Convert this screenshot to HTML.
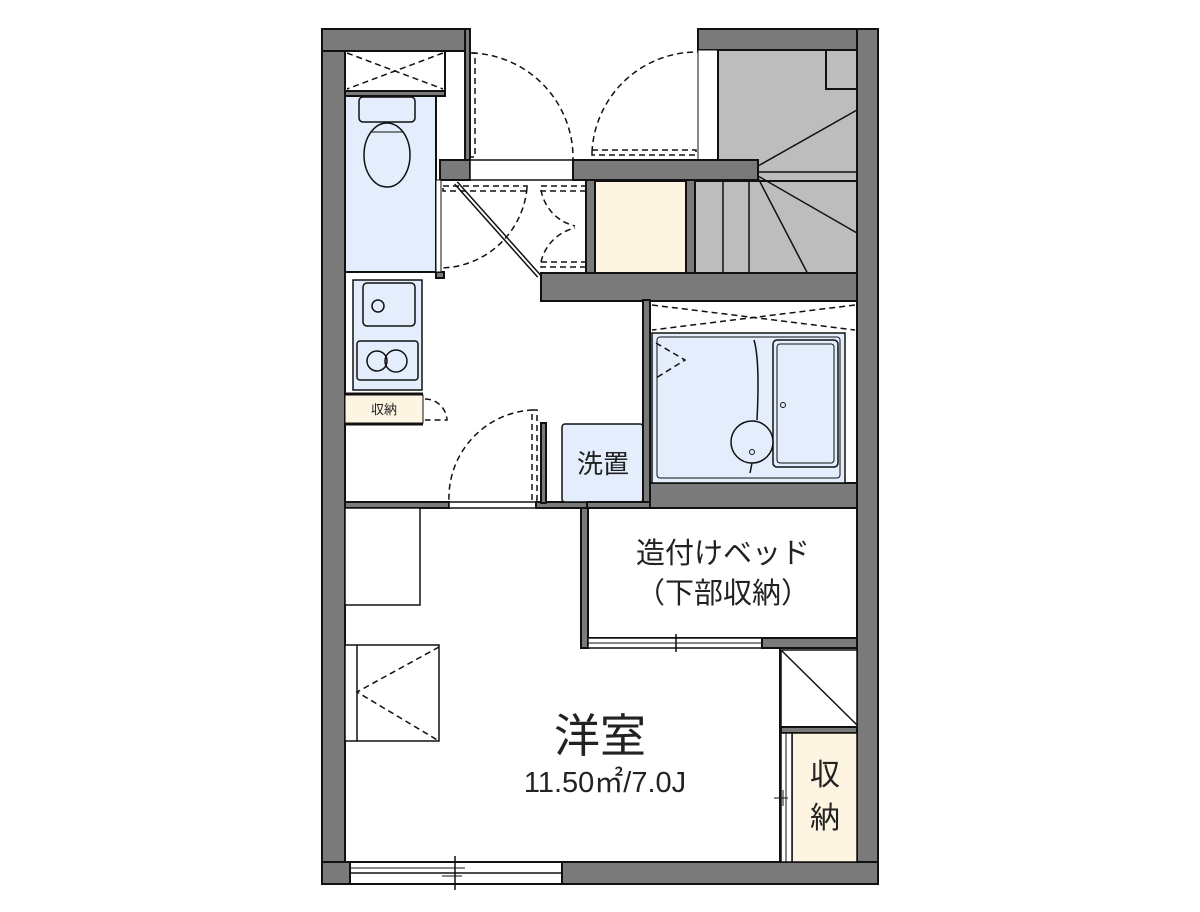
<!DOCTYPE html>
<html><head><meta charset="utf-8"><style>
html,body{margin:0;padding:0;background:#fff;}
svg{display:block;}
text{font-family:"Liberation Sans","Noto Sans CJK JP",sans-serif;fill:#222;}
</style></head><body>
<svg width="1200" height="912" viewBox="0 0 1200 912" xmlns="http://www.w3.org/2000/svg">
<g stroke="#111" stroke-width="2">
<rect x="322" y="29" width="23" height="855" fill="#7a7a7a"/>
<rect x="322" y="29" width="143" height="22" fill="#7a7a7a"/>
<rect x="698" y="29" width="180" height="21" fill="#7a7a7a"/>
<rect x="857" y="29" width="21" height="855" fill="#7a7a7a"/>
<rect x="562" y="862" width="316" height="22" fill="#7a7a7a"/>
<rect x="322" y="862" width="28" height="22" fill="#7a7a7a"/>
<rect x="350" y="862" width="212" height="22" fill="#fff"/>
<line x1="350" y1="873" x2="562" y2="873" stroke-width="1.5"/>
<line x1="350" y1="868" x2="460" y2="868" stroke-width="1"/>
<line x1="455" y1="856" x2="455" y2="890" stroke-width="1.5"/>
<line x1="445" y1="868" x2="465" y2="868" stroke-width="1"/>
<line x1="442" y1="876" x2="462" y2="876" stroke-width="1"/>
<rect x="465" y="29" width="5" height="151" fill="#7a7a7a"/>
<rect x="440" y="160" width="30" height="20" fill="#7a7a7a"/>
<rect x="345" y="91" width="100" height="5" fill="#7a7a7a"/>
<rect x="436" y="272" width="8" height="6" fill="#7a7a7a"/>
<rect x="345" y="51" width="100" height="40" fill="#fff"/>
<rect x="345" y="96" width="91" height="176" fill="#e3edfb"/>
<rect x="436" y="180" width="5" height="92" fill="#fff" stroke-width="1"/>
<rect x="359" y="97" width="56" height="25" rx="4" fill="#e3edfb" stroke-width="1.5"/>
<ellipse cx="387" cy="155" rx="23" ry="32" fill="#e3edfb" stroke-width="1.5"/>
<line x1="370" y1="132" x2="404" y2="132" stroke-width="1"/>
<rect x="470" y="160" width="103" height="20" fill="#fff" stroke-width="1.5"/>
<rect x="698" y="50" width="20" height="110" fill="#fff" stroke-width="1"/>
<rect x="718" y="50" width="139" height="131" fill="#bdbdbd"/>
<rect x="826" y="50" width="31" height="39" fill="#bdbdbd"/>
<rect x="695" y="181" width="162" height="99" fill="#bdbdbd"/>
<line x1="723" y1="181" x2="723" y2="280" stroke-width="1.5"/>
<line x1="749" y1="181" x2="749" y2="280" stroke-width="1.5"/>
<rect x="573" y="160" width="185" height="20" fill="#7a7a7a"/>
<line x1="758" y1="166" x2="857" y2="110" stroke-width="1.5"/>
<line x1="758" y1="172" x2="857" y2="172" stroke-width="1.5"/>
<line x1="758" y1="176" x2="857" y2="233" stroke-width="1.5"/>
<line x1="758" y1="178" x2="811" y2="280" stroke-width="1.5"/>
<rect x="586" y="180" width="9" height="93" fill="#7a7a7a"/>
<rect x="686" y="180" width="9" height="93" fill="#7a7a7a"/>
<rect x="595" y="181" width="91" height="92" fill="#fdf4e2"/>
<rect x="541" y="273" width="316" height="28" fill="#7a7a7a"/>
<line x1="456" y1="183" x2="539" y2="276" stroke-width="5"/>
<line x1="456" y1="183" x2="539" y2="276" stroke="#fff" stroke-width="2"/>
<rect x="353" y="280" width="69" height="110" fill="#e3edfb" stroke-width="1.5"/>
<rect x="363" y="283" width="52" height="43" rx="4" fill="#e3edfb" stroke-width="1.5"/>
<circle cx="378" cy="306" r="6" fill="none" stroke-width="1.5"/>
<rect x="357" y="341" width="61" height="39" rx="3" fill="#e3edfb" stroke-width="1.5"/>
<circle cx="377" cy="361" r="10" fill="none" stroke-width="1.5"/>
<circle cx="396" cy="361" r="11" fill="none" stroke-width="1.5"/>
<rect x="345" y="395" width="78" height="28" fill="#fdf4e2" stroke-width="1"/>
<line x1="345" y1="394" x2="423" y2="394" stroke-width="3"/>
<line x1="345" y1="424" x2="423" y2="424" stroke-width="3"/>
<rect x="345" y="502" width="104" height="6" fill="#7a7a7a"/>
<rect x="449" y="502" width="87" height="6" fill="#fff" stroke-width="1.5"/>
<rect x="536" y="502" width="51" height="6" fill="#7a7a7a"/>
<rect x="541" y="423" width="5" height="80" fill="#7a7a7a"/>
<rect x="562" y="424" width="81" height="78" rx="3" fill="#e3edfb" stroke-width="1.5"/>
<rect x="643" y="300" width="7" height="210" fill="#7a7a7a"/>
<rect x="650" y="483" width="207" height="25" fill="#7a7a7a"/>
<rect x="587" y="502" width="63" height="6" fill="#7a7a7a"/>
<rect x="650" y="301" width="207" height="182" fill="#fff"/>
<rect x="652" y="333" width="193" height="150" fill="#e3edfb" stroke-width="1.5"/>
<rect x="657" y="337" width="183" height="141" rx="3" fill="none" stroke-width="1"/>
<rect x="773" y="340" width="65" height="127" rx="4" fill="none" stroke-width="1.5"/>
<rect x="777" y="344" width="57" height="119" rx="3" fill="none" stroke-width="1"/>
<path d="M754 340 Q760 360 757 420" fill="none" stroke-width="1.5"/>
<path d="M752 463 L750 473" fill="none" stroke-width="1.5"/>
<circle cx="752" cy="442" r="21" fill="#e3edfb" stroke-width="1.5"/>
<circle cx="752" cy="452" r="2.5" fill="none" stroke-width="1"/>
<circle cx="783" cy="405" r="2.5" fill="none" stroke-width="1"/>
<rect x="581" y="508" width="7" height="140" fill="#7a7a7a"/>
<rect x="588" y="508" width="269" height="130" fill="#fff"/>
<rect x="588" y="638" width="174" height="10" fill="#fff" stroke-width="1.5"/>
<line x1="588" y1="643" x2="762" y2="643" stroke-width="1"/>
<line x1="676" y1="634" x2="676" y2="652" stroke-width="1.5"/>
<rect x="762" y="638" width="95" height="10" fill="#7a7a7a"/>
<rect x="345" y="508" width="75" height="97" fill="#fff" stroke-width="1.5"/>
<rect x="345" y="645" width="94" height="96" fill="#fff" stroke-width="1.5"/>
<line x1="357" y1="645" x2="357" y2="741" stroke-width="1.5"/>
<rect x="781" y="650" width="76" height="77" fill="#fff" stroke-width="1.5"/>
<line x1="781" y1="650" x2="857" y2="725" stroke-width="1.5"/>
<rect x="781" y="727" width="76" height="6" fill="#7a7a7a"/>
<rect x="792" y="733" width="65" height="129" fill="#fdf4e2" stroke-width="1.5"/>
<rect x="781" y="733" width="11" height="129" fill="#fff" stroke-width="1.5"/>
<line x1="786" y1="733" x2="786" y2="862" stroke-width="1"/>
<line x1="774" y1="798" x2="788" y2="798" stroke-width="1"/>
<line x1="783" y1="790" x2="783" y2="806" stroke-width="1"/>
<line x1="780" y1="648" x2="780" y2="862" stroke-width="2"/>
</g>
<g fill="none" stroke="#111" stroke-width="1.5" stroke-dasharray="6,4">
<line x1="347" y1="53" x2="443" y2="89"/><line x1="443" y1="53" x2="347" y2="89"/>
<rect x="470" y="53" width="5" height="104"/>
<path d="M472 53 A105 105 0 0 1 573 160"/>
<rect x="592" y="150" width="104" height="5"/>
<path d="M592 152 A105 105 0 0 1 698 52"/>
<rect x="443" y="186" width="84" height="5"/>
<path d="M527 188 A88 88 0 0 1 441 268"/>
<rect x="541" y="186" width="45" height="5"/>
<rect x="541" y="262" width="45" height="5"/>
<path d="M541 190 A45 45 0 0 0 575 226"/>
<path d="M541 262 A45 45 0 0 1 575 228"/>
<path d="M425 399 A22 22 0 0 1 447 420 L425 420"/>
<rect x="532" y="410" width="5" height="90"/>
<path d="M533 410 A88 88 0 0 0 449 502"/>
<line x1="652" y1="305" x2="855" y2="330"/><line x1="855" y1="305" x2="652" y2="330"/>
<polyline points="656,343 685,360 656,378"/>
<polyline points="439,647 357,692 439,741"/>
</g>
<text x="384" y="414" font-size="13" text-anchor="middle">収納</text>
<text x="603" y="473" font-size="26" text-anchor="middle">洗置</text>
<text x="723" y="563" font-size="29" text-anchor="middle">造付けベッド</text>
<text x="723" y="603" font-size="29" text-anchor="middle">（下部収納）</text>
<text x="600" y="752" font-size="46" text-anchor="middle">洋室</text>
<text x="605" y="792" font-size="29" text-anchor="middle">11.50㎡/7.0J</text>
<text x="825" y="785" font-size="30" text-anchor="middle">収</text>
<text x="825" y="828" font-size="30" text-anchor="middle">納</text>
</svg>
</body></html>
